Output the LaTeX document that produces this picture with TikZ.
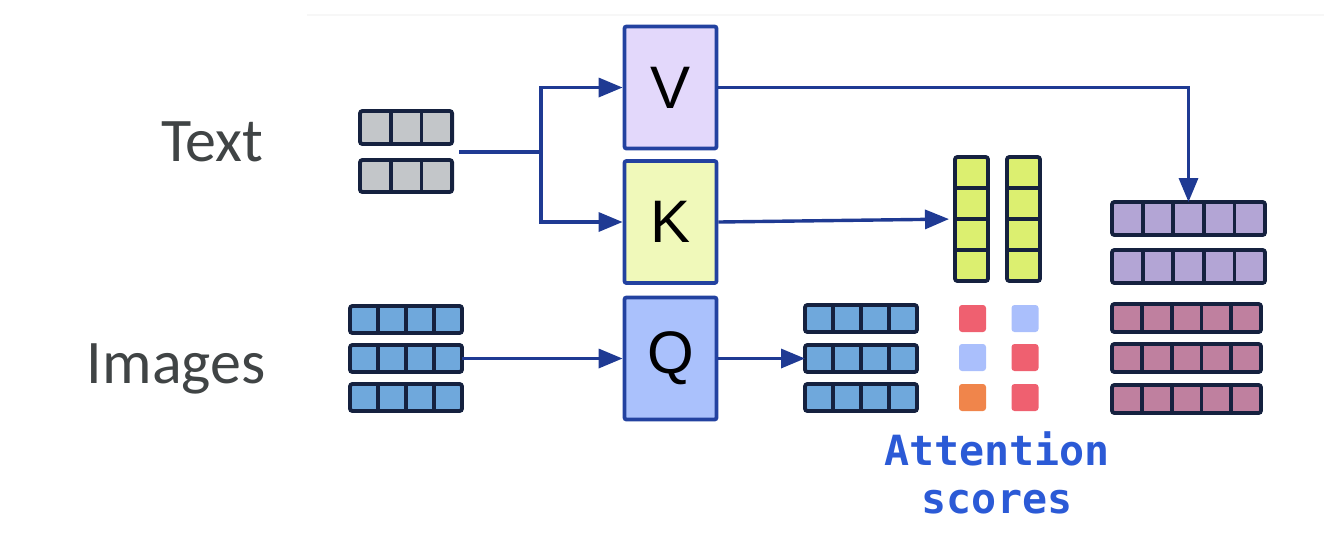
\documentclass[tikz,border=0pt]{standalone}
\usepackage{fontspec}
\setmainfont{Carlito}
\newfontfamily\lblfont{Carlito}
\newfontfamily\boxfont{Liberation Sans}
\newfontfamily\attnfont{DejaVu Sans Mono}
\usetikzlibrary{arrows.meta,calc}

\definecolor{arrowblue}{HTML}{1F3A93}
\definecolor{boxborder}{HTML}{2342A0}
\definecolor{cellborder}{HTML}{15213F}
\definecolor{vfill}{HTML}{E3D8FB}
\definecolor{kfill}{HTML}{F0F9BA}
\definecolor{qfill}{HTML}{AAC1FC}
\definecolor{graycell}{HTML}{C3C6C9}
\definecolor{bluecell}{HTML}{6FA8DC}
\definecolor{yellowcell}{HTML}{DCEF70}
\definecolor{purplecell}{HTML}{B3A5D5}
\definecolor{mauvecell}{HTML}{BF809F}
\definecolor{scorered}{HTML}{EF6070}
\definecolor{scoreblue}{HTML}{AABFFC}
\definecolor{scoreorange}{HTML}{F0854B}
\definecolor{labelgray}{HTML}{404445}
\definecolor{attnblue}{HTML}{2B5AD6}

\newcommand\cellrow[7]{%
  \node[cellbox, fill=#7, anchor=north west, minimum width={#4*#5*0.5pt}, minimum height={#6*0.5pt}] (#1) at (#2,#3) {};
  \pgfmathtruncatemacro\cellsminus{#4-1}
  \foreach \i in {1,...,\cellsminus}{\draw[cellline] ($(#1.north west)+(\i*#5,0)$) -- ($(#1.south west)+(\i*#5,0)$);}
}
\newcommand\cellcol[7]{%
  \node[cellbox, fill=#7, anchor=north west, minimum width={#5*0.5pt}, minimum height={#4*#6*0.5pt}] (#1) at (#2,#3) {};
  \pgfmathtruncatemacro\cellsminus{#4-1}
  \foreach \i in {1,...,\cellsminus}{\draw[cellline] ($(#1.north west)+(0,\i*#6)$) -- ($(#1.north east)+(0,\i*#6)$);}
}

\tikzset{
  proj/.style={draw=boxborder, line width=1.9pt, rounded corners=1pt, minimum width=46pt, minimum height=61pt, inner sep=0pt, text=black, font=\boxfont\fontsize{30}{30}\selectfont},
  cellbox/.style={draw=cellborder, line width=1.9pt, rounded corners=1.2pt, inner sep=0pt, outer sep=0pt},
  cellline/.style={draw=cellborder, line width=1.9pt},
  flow/.style={draw=arrowblue, line width=1.7pt, -{Triangle[length=12pt,width=9.5pt]}},
  plain/.style={draw=arrowblue, line width=1.7pt},
  score/.style={rounded corners=1.5pt, minimum size=13.5pt, inner sep=0pt},
  lbl/.style={text=labelgray, font=\lblfont\fontsize{31}{31}\selectfont, inner sep=0pt},
  attn/.style={text=attnblue, font=\attnfont\bfseries\fontsize{20.8}{24}\selectfont, inner sep=0pt},
}

\begin{document}
\begin{tikzpicture}[x=0.5pt, y=-0.5pt]
\useasboundingbox (0,0) rectangle (1324,554);
\draw[gray!6, line width=1pt] (307,15) -- (1324,15);

% labels
\node[lbl, anchor=base east] (textlbl) at (264,161) {Text};
\node[lbl, anchor=base east] (imglbl) at (266,383) {Images};

% projection boxes
\node[proj, fill=vfill] (V) at (670.5,87.5) {V};
\node[proj, fill=kfill] (K) at (670.5,222) {K};
\node[proj, fill=qfill] (Q) at (670.5,358.5) {Q};

% text tokens
\cellrow{t1}{360}{111}{3}{30.7}{33}{graycell}
\cellrow{t2}{360}{160}{3}{30.7}{32}{graycell}

% image tokens
\cellrow{i1}{350}{306}{4}{28}{27}{bluecell}
\cellrow{i2}{350}{345}{4}{28}{27}{bluecell}
\cellrow{i3}{350}{384}{4}{28}{27}{bluecell}

% queries
\cellrow{o1}{805}{305}{4}{28}{27}{bluecell}
\cellrow{o2}{805}{345}{4}{28}{27}{bluecell}
\cellrow{o3}{805}{384}{4}{28}{27}{bluecell}

% keys
\cellcol{c1}{955}{157}{4}{33}{31}{yellowcell}
\cellcol{c2}{1007}{157}{4}{33}{31}{yellowcell}

% values
\cellrow{p1}{1112}{202}{5}{30.6}{33}{purplecell}
\cellrow{p2}{1112}{250}{5}{30.6}{33}{purplecell}

% outputs
\cellrow{m1}{1112}{304}{5}{29.8}{28}{mauvecell}
\cellrow{m2}{1112}{344}{5}{29.8}{28}{mauvecell}
\cellrow{m3}{1112}{385}{5}{29.8}{28}{mauvecell}

% attention scores
\node[score, fill=scorered]    (s11) at (972.5,318.5) {};
\node[score, fill=scoreblue]   (s12) at (1025,318.5) {};
\node[score, fill=scoreblue]   (s21) at (972.5,357.5) {};
\node[score, fill=scorered]    (s22) at (1025,357.5) {};
\node[score, fill=scoreorange] (s31) at (972.5,397.5) {};
\node[score, fill=scorered]    (s32) at (1025,397.5) {};

\node[attn, anchor=base] (attn1) at (997,465) {Attention};
\node[attn, anchor=base] (attn2) at (997,513) {scores};

% connectors
\coordinate (tmid) at ($(t1.south east)!0.5!(t2.north east)$);
\coordinate (tsplit) at (541,151);
\draw[plain, shorten <=3.5pt] (tmid) -- (tmid -| tsplit);
\draw[flow] (tmid -| tsplit) |- (V.west);
\draw[flow] (tmid -| tsplit) |- (K.west);
\draw[flow] (i2.east) -- (Q.west);
\draw[flow] (Q.east) -- (o2.west);
\draw[flow, shorten >=3pt] (K.east) -- (c1.west);
\draw[flow] (V.east) -| (p1.north);
\end{tikzpicture}
\end{document}
